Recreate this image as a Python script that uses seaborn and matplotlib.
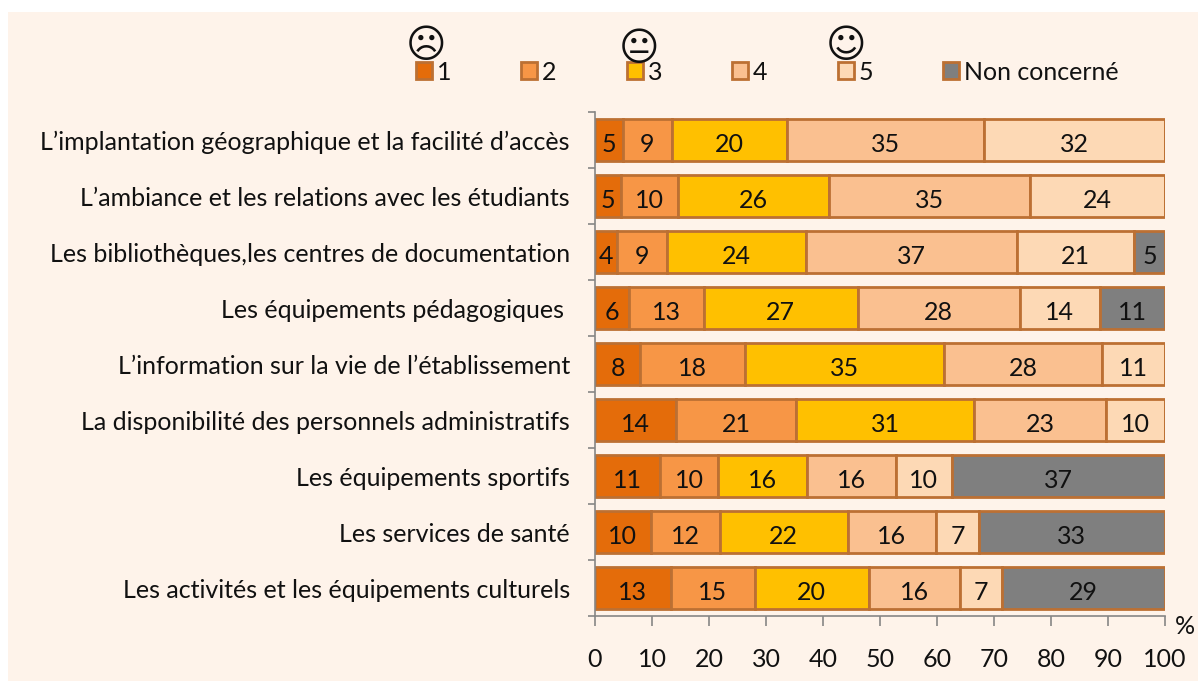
import matplotlib
matplotlib.use("Agg")
import matplotlib.pyplot as plt
from matplotlib.patches import Rectangle
import seaborn as sns
import pandas as pd

categories = [
    "L\u2019implantation géographique et la facilité d\u2019accès",
    "L\u2019ambiance et les relations avec les étudiants",
    "Les bibliothèques,les centres de documentation",
    "Les équipements pédagogiques ",
    "L\u2019information sur la vie de l\u2019établissement",
    "La disponibilité des personnels administratifs",
    "Les équipements sportifs",
    "Les services de santé",
    "Les activités et les équipements culturels",
]
series_names = ["1", "2", "3", "4", "5", "Non concerné"]
s1 = [4.9, 4.6, 3.9, 6.0, 7.9, 14.2, 11.4, 9.8, 13.3]
s2 = [8.6, 10.0, 8.7, 13.1, 18.4, 21.1, 10.2, 12.1, 14.7]
s3 = [20.1, 26.4, 24.4, 27.0, 34.9, 31.2, 15.6, 22.4, 20.0]
s4 = [34.6, 35.4, 37.0, 28.4, 27.8, 23.1, 15.6, 15.6, 16.0]
s5 = [31.8, 23.6, 20.6, 14.1, 11.0, 10.4, 9.8, 7.4, 7.4]
s6 = [0, 0, 5.4, 11.4, 0, 0, 37.4, 32.7, 28.6]
series_values = [s1, s2, s3, s4, s5, s6]
xticks = [0, 10, 20, 30, 40, 50, 60, 70, 80, 90, 100]
colors = ["#E46C0A", "#F79646", "#FFC000", "#FAC090", "#FDD9B5", "#7F7F7F"]
EDGE = "#BC7033"
BG = "#FEF3EA"
AX = "#868686"
W, H = 1198, 681
FS = 18

sns.set_theme(style="white")
plt.rcParams["font.family"] = ["Lato", "DejaVu Sans"]
fig = plt.figure(figsize=(W / 100, H / 100), dpi=100, facecolor="white")
fig.patches.append(Rectangle((8 / W, 0), (W - 8) / W, (H - 12) / H, transform=fig.transFigure,
                             facecolor=BG, edgecolor="none", zorder=-5))
ax = fig.add_axes([595 / W, 1 - 616 / H, 570 / W, 504 / H])
ax.patch.set_alpha(0)

df = pd.DataFrame({"cat": categories})
left = [0.0] * len(categories)
for name, vals, col in zip(series_names, series_values, colors):
    df["v"] = vals
    n0 = len(ax.containers)
    sns.barplot(data=df, y="cat", x="v", orient="h", color=col, ax=ax, left=left, width=0.75,
                edgecolor=EDGE, linewidth=2, label=name, saturation=1, errorbar=None)
    cont = ax.containers[n0]
    lbls = [f"{v:.0f}" if v > 0 else "" for v in vals]
    for t in ax.bar_label(cont, labels=lbls, label_type="center", fontsize=FS, color="#111111"):
        t.xyann = (0, -3)
    left = [a + b for a, b in zip(left, vals)]

ax.set_xlim(0, 100)
ax.set_ylim(8.5, -0.5)
ax.set_xlabel("")
ax.set_ylabel("")
ax.set_xticks(xticks)
ax.set_xticklabels([str(t) for t in xticks], fontsize=FS, color="#111111")
ax.set_yticks(range(len(categories)))
ax.set_yticklabels(categories, fontsize=FS, color="#111111")
ax.tick_params(axis="y", length=0, pad=18)
ax.tick_params(axis="x", length=7, width=1.2, color=AX, pad=16, bottom=True)
ax.set_yticks([i - 0.5 for i in range(len(categories) + 1)], minor=True)
ax.tick_params(axis="y", which="minor", length=5, width=1.2, color=AX, left=True)
for side in ("top", "right"):
    ax.spines[side].set_visible(False)
for side in ("left", "bottom"):
    ax.spines[side].set_color(AX)
    ax.spines[side].set_linewidth(1.2)

h, l = ax.get_legend_handles_labels()
leg = ax.legend(h, l, ncols=6, loc="center left", bbox_to_anchor=(408 / W, 1 - 72 / H),
                bbox_transform=fig.transFigure, frameon=False, fontsize=FS,
                handlelength=0.64, handleheight=0.64, handletextpad=0.2,
                columnspacing=2.8, borderpad=0.3, borderaxespad=0)
for t in leg.get_texts():
    t.set_color("#111111")

fig.text(426 / W, 1 - 46 / H, "\u2639", fontsize=28, family="DejaVu Sans", ha="center", va="center", color="#111111")
fig.text(639 / W, 1 - 49 / H, "\U0001F610", fontsize=28, family="DejaVu Sans", ha="center", va="center", color="#111111")
fig.text(846 / W, 1 - 46 / H, "\u263A", fontsize=28, family="DejaVu Sans", ha="center", va="center", color="#111111")
fig.text(1185 / W, 1 - 626 / H, "%", fontsize=FS, ha="center", va="center", color="#111111")
fig.savefig("out.png", dpi=100, facecolor="white")
